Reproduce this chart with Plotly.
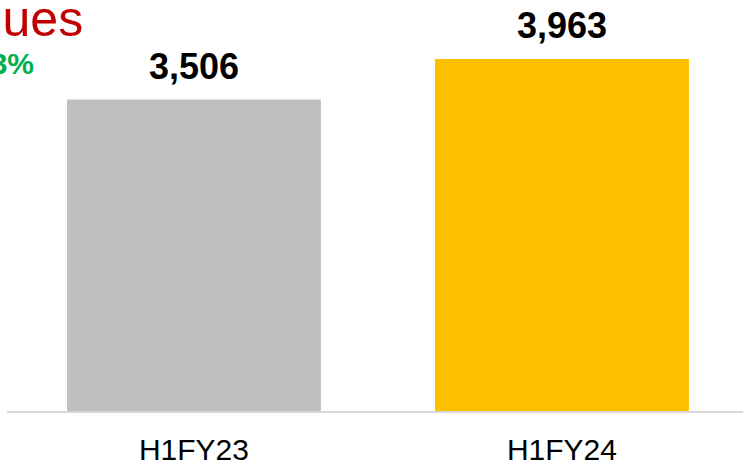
import plotly.graph_objects as go

categories = ["H1FY23", "H1FY24"]
values = [3506, 3963]
bar_colors = ["#BFBFBF", "#FFC000"]
value_labels = ["3,506", "3,963"]
title_text = "Revenues"
growth_text = "13%"

FONT = "Liberation Sans, Arial, sans-serif"

fig = go.Figure()
fig.add_trace(go.Bar(
    x=categories, y=values, marker=dict(color=bar_colors, line=dict(width=0)),
    hoverinfo="skip",
))

for c, v, t in zip(categories, values, value_labels):
    fig.add_annotation(x=c, y=v, xref="x", yref="y", text=f"<b>{t}</b>",
                       showarrow=False, yanchor="bottom", yshift=11,
                       font=dict(family=FONT, size=36, color="#000000"))

fig.add_annotation(x=(85 - 7) / 736, y=1, xref="paper", yref="paper",
                   text=title_text, showarrow=False, xanchor="right", yanchor="top",
                   yshift=11, font=dict(family=FONT, size=50, color="#C00000"))
fig.add_annotation(x=(36 - 7) / 736, y=(413 - 64) / 413, xref="paper", yref="paper",
                   text=f"<b>{growth_text}</b>", showarrow=False, xanchor="right", yanchor="middle",
                   font=dict(family=FONT, size=30, color="#00B050"))

fig.update_layout(
    width=743, height=466,
    margin=dict(l=7, r=0, t=0, b=53),
    paper_bgcolor="white", plot_bgcolor="white",
    bargap=0.31, showlegend=False,
    xaxis=dict(range=[-0.508, 1.492], showline=True, linecolor="#D9D9D9", linewidth=2,
               showgrid=False, zeroline=False, ticks="", ticklabelstandoff=11,
               tickfont=dict(family=FONT, size=30, color="#000000")),
    yaxis=dict(range=[0, 4626], visible=False, showgrid=False, zeroline=False),
)

fig.write_html("out.html", config={"displayModeBar": False},
               post_script="document.body.style.margin='0';document.body.style.overflow='hidden';")
